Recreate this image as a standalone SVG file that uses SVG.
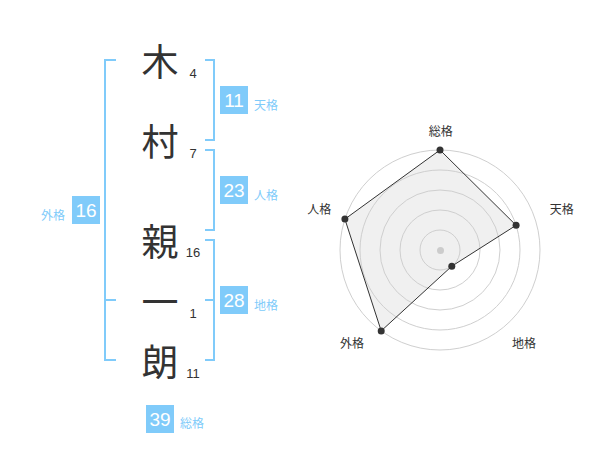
<svg xmlns="http://www.w3.org/2000/svg" width="600" height="470" viewBox="0 0 600 470">
<style>
.kanji{font-family:"Noto Sans CJK JP","Noto Sans CJK SC",sans-serif;font-size:37px;fill:#333;text-anchor:middle;dominant-baseline:central}
.num{font-family:"Liberation Sans",Arial,sans-serif;font-size:13px;fill:#333;text-anchor:middle}
.box{fill:#80cbfa}
.boxnum{font-family:"Liberation Sans",Arial,sans-serif;font-size:19px;fill:#fff;text-anchor:middle;dominant-baseline:central}
.lbl{font-family:"Noto Sans CJK JP","Noto Sans CJK SC",sans-serif;font-size:12px;fill:#80cbfa;dominant-baseline:central}
.brk{fill:none;stroke:#80cbfa;stroke-width:2}
.ring{fill:none;stroke:#cfcfcf;stroke-width:1}
.axl{font-family:"Noto Sans CJK JP","Noto Sans CJK SC",sans-serif;font-size:12px;fill:#333;text-anchor:middle;dominant-baseline:central}
.pt{fill:#333}
</style>
<rect width="600" height="470" fill="#fff"/>
<g id="connectors">
<path class="brk" d="M205,60 H214 V140 H205"/>
<path class="brk" d="M205,150 H214 V230 H205"/>
<path class="brk" d="M205,240 H214 V360 H205 M205,300 H214"/>
<path class="brk" d="M116,60 H105 V360 H116 M105,300 H116"/>
</g>
<g id="char1"><text class="kanji" x="160" y="60">木</text><text class="num" x="193" y="78">4</text></g>
<g id="char2"><text class="kanji" x="160" y="140">村</text><text class="num" x="193" y="158">7</text></g>
<g id="char3"><text class="kanji" x="160" y="240">親</text><text class="num" x="193" y="257">16</text></g>
<g id="char4"><text class="kanji" x="160" y="300">一</text><text class="num" x="193" y="318">1</text></g>
<g id="char5"><text class="kanji" x="160" y="360">朗</text><text class="num" x="193" y="378">11</text></g>
<g id="tenkaku"><rect class="box" x="220" y="86" width="28" height="28"/><text class="boxnum" x="234" y="100.5">11</text><text class="lbl" x="254" y="104">天格</text></g>
<g id="jinkaku"><rect class="box" x="220" y="176" width="28" height="28"/><text class="boxnum" x="234" y="190.5">23</text><text class="lbl" x="254" y="194">人格</text></g>
<g id="chikaku"><rect class="box" x="220" y="286" width="28" height="28"/><text class="boxnum" x="234" y="300.5">28</text><text class="lbl" x="254" y="304">地格</text></g>
<g id="gaikaku"><rect class="box" x="72" y="196" width="28" height="28"/><text class="boxnum" x="86" y="210.5">16</text><text class="lbl" x="41" y="214">外格</text></g>
<g id="soukaku"><rect class="box" x="146" y="405" width="28" height="28"/><text class="boxnum" x="160" y="419.5">39</text><text class="lbl" x="180" y="422">総格</text></g>
<g id="radar">
<polygon points="440,150 516.1,225.3 451.8,266.2 381.2,330.9 344.9,219.1" fill="#f0f0f0"/>
<circle class="ring" cx="440" cy="250" r="20"/>
<circle class="ring" cx="440" cy="250" r="40"/>
<circle class="ring" cx="440" cy="250" r="60"/>
<circle class="ring" cx="440" cy="250" r="80"/>
<circle class="ring" cx="440" cy="250" r="100"/>
<circle cx="440.5" cy="250.5" r="3.5" fill="#ccc"/>
<polygon points="440,150 516.1,225.3 451.8,266.2 381.2,330.9 344.9,219.1" fill="none" stroke="#333" stroke-width="1"/>
<circle class="pt" cx="440" cy="150" r="3.5"/>
<circle class="pt" cx="516.1" cy="225.3" r="3.5"/>
<circle class="pt" cx="451.8" cy="266.2" r="3.5"/>
<circle class="pt" cx="381.2" cy="330.9" r="3.5"/>
<circle class="pt" cx="344.9" cy="219.1" r="3.5"/>
<text class="axl" x="440.8" y="130.3">総格</text>
<text class="axl" x="561.7" y="208.5">天格</text>
<text class="axl" x="524" y="342.5">地格</text>
<text class="axl" x="352" y="342.5">外格</text>
<text class="axl" x="319.2" y="208.7">人格</text>
</g>
</svg>
